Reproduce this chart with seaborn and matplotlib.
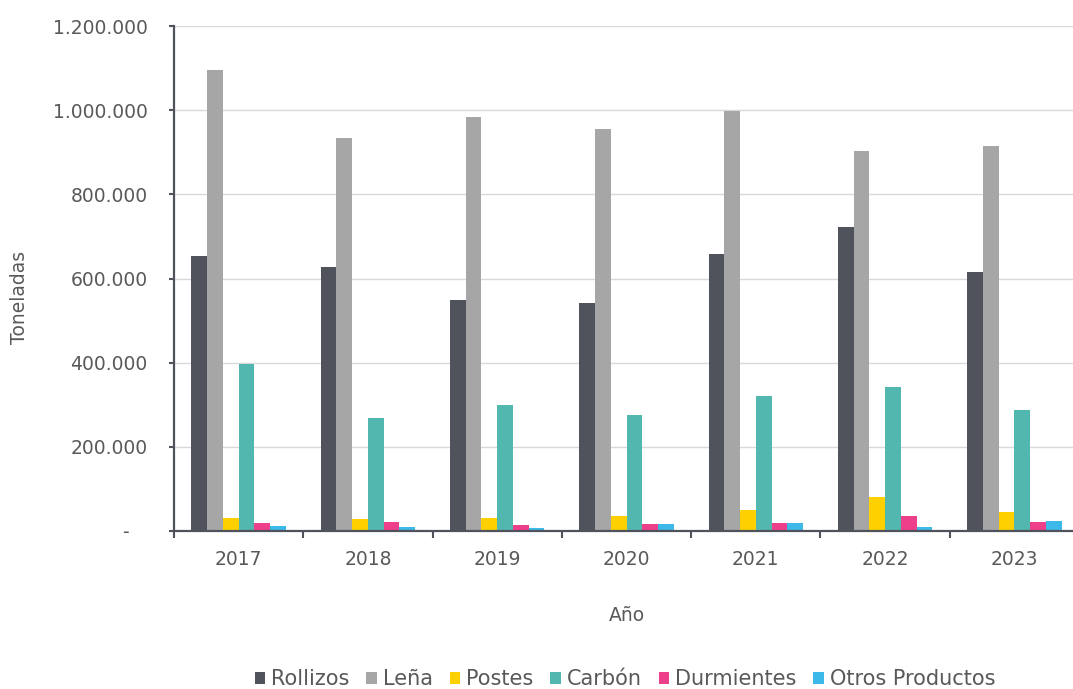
import matplotlib
matplotlib.use("Agg")
import matplotlib.pyplot as plt
import matplotlib.ticker as mticker
from matplotlib.patches import Patch
import seaborn as sns
import pandas as pd

years = ["2017", "2018", "2019", "2020", "2021", "2022", "2023"]
products = ["Rollizos", "Leña", "Postes", "Carbón", "Durmientes", "Otros Productos"]
rollizos = [653000, 627000, 549000, 542000, 658000, 723000, 615000]
lena = [1095000, 934000, 983000, 955000, 998000, 903000, 916000]
postes = [31000, 28000, 31000, 35000, 50000, 80000, 44000]
carbon = [397000, 269000, 299000, 276000, 321000, 341000, 288000]
durmientes = [18000, 22000, 15000, 17000, 20000, 35000, 21000]
otros = [11000, 9000, 8000, 17000, 20000, 10000, 24000]
colors = ["#50535C", "#A6A6A6", "#FFD000", "#52B8AF", "#EE3F8A", "#3CB9E8"]

series = [rollizos, lena, postes, carbon, durmientes, otros]
rows = []
for name, vals in zip(products, series):
    for y, v in zip(years, vals):
        rows.append({"Año": y, "Producto": name, "Toneladas": v})
df = pd.DataFrame(rows)

sns.set_theme(style="white")
plt.rcParams["font.family"] = ["DejaVu Sans"]
txt = "#595959"
axc = "#50535C"
fs = 13.5

fig = plt.figure(figsize=(10.73, 6.89), dpi=100)
ax = fig.add_axes([174 / 1073, 1 - 531 / 689, 905 / 1073, (531 - 26) / 689])

sns.barplot(data=df, x="Año", y="Toneladas", hue="Producto", order=years,
            hue_order=products, palette=colors, width=0.73, saturation=1,
            edgecolor="none", linewidth=0, errorbar=None, ax=ax, legend=False)

ax.set_xlim(-0.5, 6.5)
ax.set_ylim(0, 1200000)
ax.yaxis.set_major_locator(mticker.MultipleLocator(200000))
ax.yaxis.set_major_formatter(mticker.FuncFormatter(
    lambda v, p: "-   " if v == 0 else f"{int(v):,}".replace(",", ".")))
ax.grid(axis="y", color="#D9D9D9", linewidth=1)
ax.set_axisbelow(True)

ax.set_xticks([i - 0.5 for i in range(8)])
ax.set_xticklabels([])
ax.set_xticks(range(7), minor=True)
ax.set_xticklabels(years, minor=True)
ax.tick_params(axis="x", which="major", bottom=True, length=5, width=1.5, color=axc,
               direction="out")
ax.tick_params(axis="x", which="minor", bottom=True, length=0, pad=14, labelsize=fs,
               labelcolor=txt)
ax.tick_params(axis="y", which="major", left=True, length=3.6, width=1.5, color=axc,
               direction="out", labelsize=fs, labelcolor=txt, pad=15.5)

for s in ["top", "right"]:
    ax.spines[s].set_visible(False)
for s in ["left", "bottom"]:
    ax.spines[s].set_color(axc)
    ax.spines[s].set_linewidth(1.6)

ax.set_xlabel("Año", fontsize=fs, color=txt, labelpad=26)
ax.set_ylabel("Toneladas", fontsize=fs, color=txt)
ax.yaxis.set_label_coords(-0.160, 0.463)

handles = [Patch(facecolor=c, edgecolor="none", label=l) for c, l in zip(colors, products)]
fig.legend(handles=handles, loc="center", bbox_to_anchor=(625 / 1073, 1 - 679 / 689),
           ncol=6, frameon=False, fontsize=15, labelcolor=txt, handlelength=0.5,
           handleheight=0.5, handletextpad=0.3, columnspacing=0.8)

fig.savefig("out.png", dpi=100)
